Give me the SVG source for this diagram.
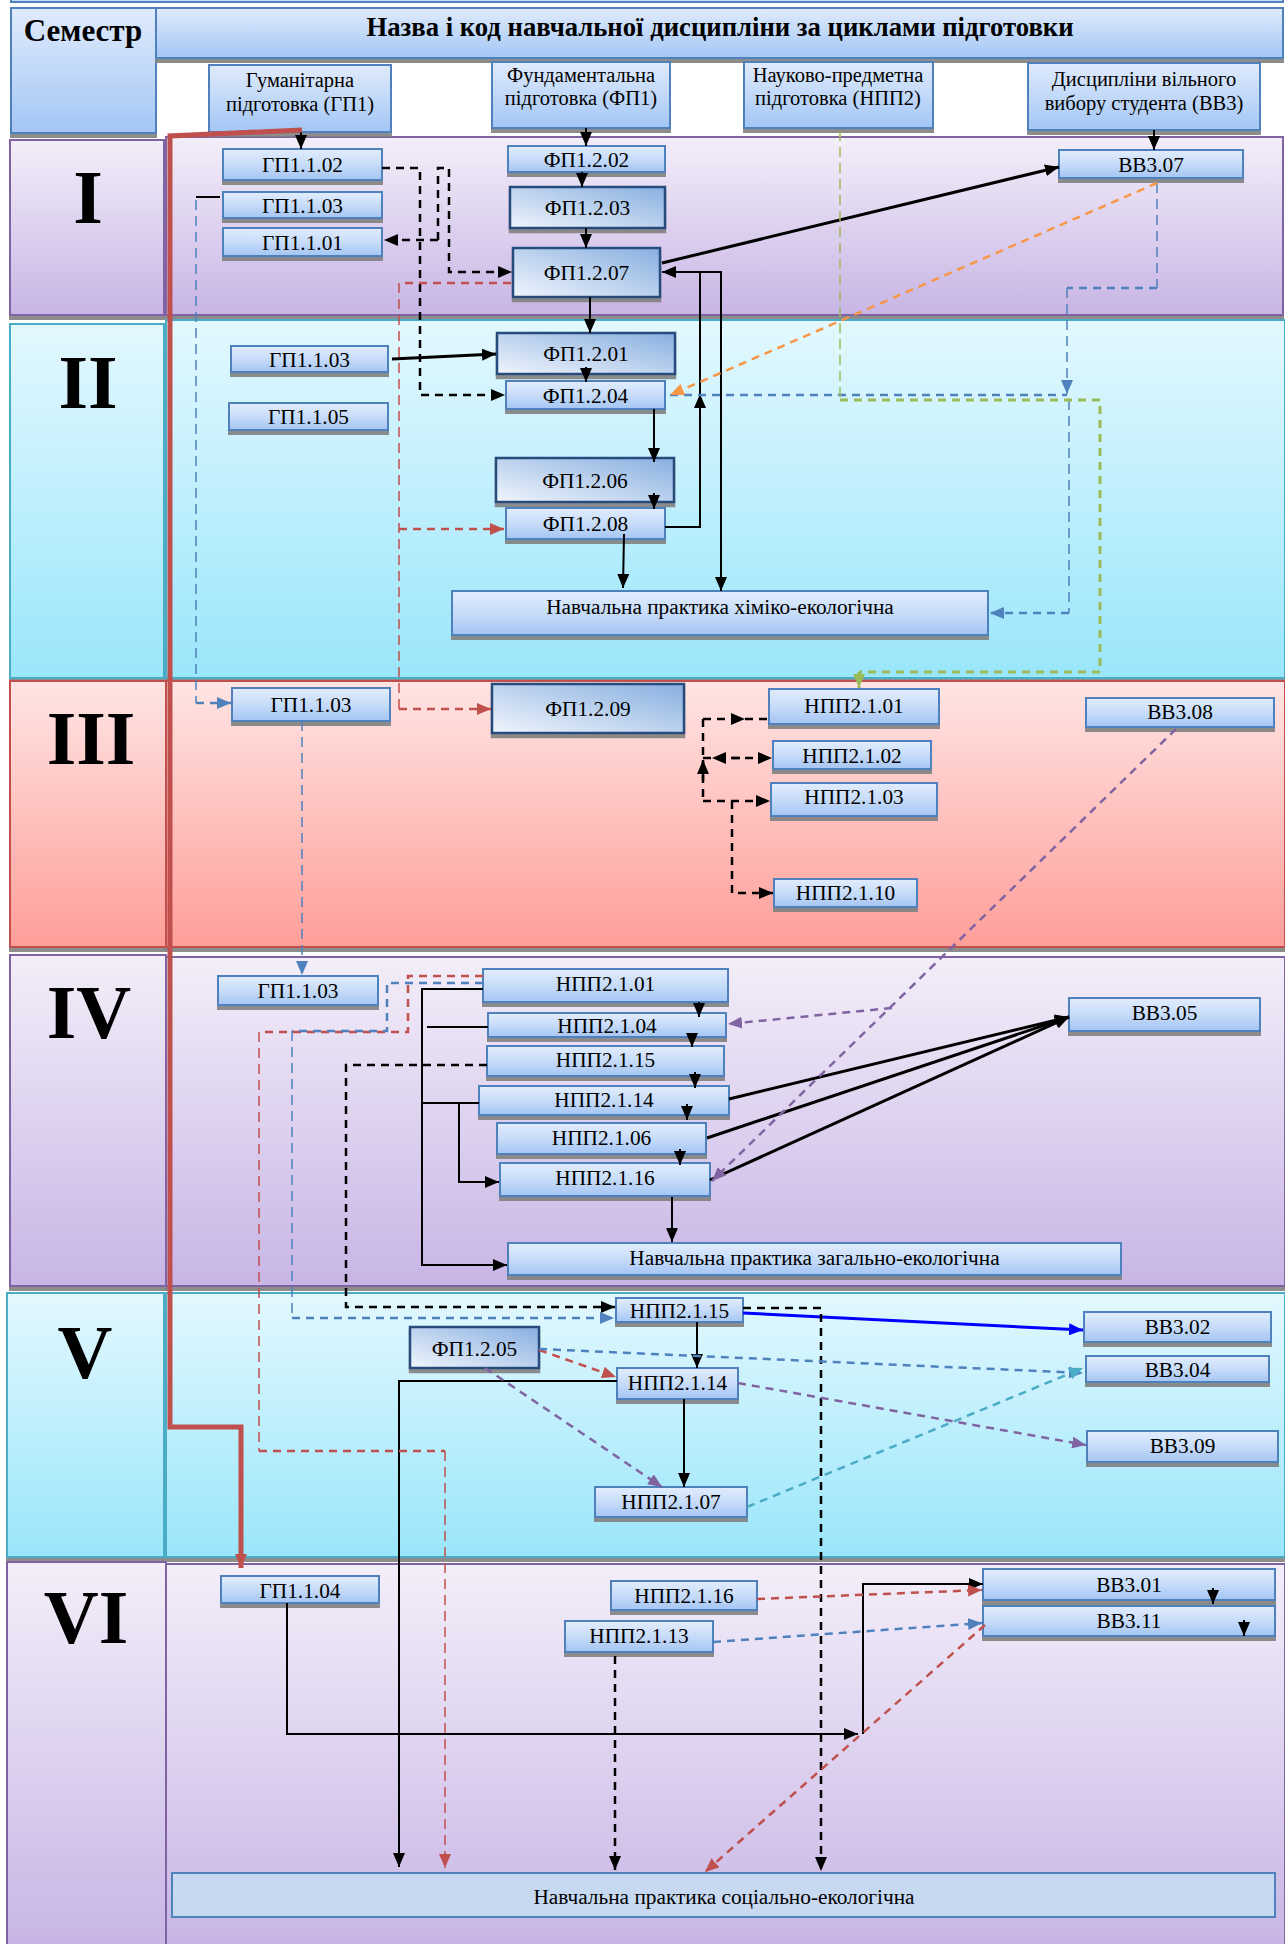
<svg xmlns="http://www.w3.org/2000/svg" width="1285" height="1944" viewBox="0 0 1285 1944">
<defs>
<style>
.t{font-family:"Liberation Serif","Times New Roman",serif;font-size:21.3px;text-anchor:middle;fill:#000}
.th{font-family:"Liberation Serif","Times New Roman",serif;font-size:20.5px;text-anchor:middle;fill:#000}
.rn{font-family:"Liberation Serif","Times New Roman",serif;font-size:76px;font-weight:bold;text-anchor:middle;fill:#000}
.n{fill:url(#gN);stroke:#4f81bd;stroke-width:2;filter:url(#sh)}
.d{fill:url(#gD);stroke:#264b7c;stroke-width:2.5;filter:url(#sh)}
.h{fill:url(#gH);stroke:#4f81bd;stroke-width:2;filter:url(#sh)}
.pp{fill:url(#gP);stroke:#8064a2;stroke-width:2;filter:url(#sh)}
.pc{fill:url(#gC);stroke:#4bacc6;stroke-width:2;filter:url(#sh)}
.pr{fill:url(#gR);stroke:#c0504d;stroke-width:2;filter:url(#sh)}
.k{fill:none;stroke:#000;stroke-width:2}
.k3{fill:none;stroke:#000;stroke-width:3}
.kd{fill:none;stroke:#000;stroke-width:2.5;stroke-dasharray:8 6}
.rd{fill:none;stroke:#c0504d;stroke-width:2.5;stroke-dasharray:8 6}
.rdt{fill:none;stroke:#c0504d;stroke-width:1.5;stroke-dasharray:10 6}
.bd{fill:none;stroke:#4f81bd;stroke-width:2.5;stroke-dasharray:8 6}
.bdt{fill:none;stroke:#4f81bd;stroke-width:1.5;stroke-dasharray:10 6}
.od{fill:none;stroke:#f79646;stroke-width:2.5;stroke-dasharray:8 6}
.gd{fill:none;stroke:#9bbb59;stroke-width:3;stroke-dasharray:8 6}
.gdt{fill:none;stroke:#9bbb59;stroke-width:1.5;stroke-dasharray:10 6}
.vd{fill:none;stroke:#8064a2;stroke-width:2.5;stroke-dasharray:8 6}
.cd{fill:none;stroke:#4bacc6;stroke-width:2.5;stroke-dasharray:8 6}
</style>
<filter id="sh" x="-5%" y="-10%" width="110%" height="140%"><feDropShadow dx="0" dy="4" stdDeviation="0.4" flood-color="#808080" flood-opacity="0.9"/></filter>
<linearGradient id="gN" x1="0" y1="0" x2="0" y2="1"><stop offset="0" stop-color="#e2edfd"/><stop offset="0.5" stop-color="#c7dcf9"/><stop offset="1" stop-color="#a4c5f3"/></linearGradient>
<linearGradient id="gH" x1="0" y1="0" x2="0" y2="1"><stop offset="0" stop-color="#e0ebfc"/><stop offset="1" stop-color="#a3c6f5"/></linearGradient>
<linearGradient id="gD" x1="0" y1="1" x2="1" y2="0"><stop offset="0" stop-color="#f0f5fc"/><stop offset="1" stop-color="#88afe0"/></linearGradient>
<linearGradient id="gP" x1="0" y1="0" x2="0" y2="1"><stop offset="0" stop-color="#f3eef9"/><stop offset="1" stop-color="#c8b5e5"/></linearGradient>
<linearGradient id="gC" x1="0" y1="0" x2="0" y2="1"><stop offset="0" stop-color="#e3f8fe"/><stop offset="1" stop-color="#9ae6fb"/></linearGradient>
<linearGradient id="gR" x1="0" y1="0" x2="0" y2="1"><stop offset="0" stop-color="#ffe5e4"/><stop offset="1" stop-color="#ff9e99"/></linearGradient>
<marker id="aK" markerUnits="userSpaceOnUse" markerWidth="14" markerHeight="12" refX="14" refY="6" orient="auto"><path d="M0,0 L14,6 L0,12 z" fill="#000"/></marker>
<marker id="aR" markerUnits="userSpaceOnUse" markerWidth="14" markerHeight="12" refX="14" refY="6" orient="auto"><path d="M0,0 L14,6 L0,12 z" fill="#c0504d"/></marker>
<marker id="aB" markerUnits="userSpaceOnUse" markerWidth="14" markerHeight="12" refX="14" refY="6" orient="auto"><path d="M0,0 L14,6 L0,12 z" fill="#4f81bd"/></marker>
<marker id="aO" markerUnits="userSpaceOnUse" markerWidth="14" markerHeight="12" refX="14" refY="6" orient="auto"><path d="M0,0 L14,6 L0,12 z" fill="#f79646"/></marker>
<marker id="aG" markerUnits="userSpaceOnUse" markerWidth="14" markerHeight="12" refX="14" refY="6" orient="auto"><path d="M0,0 L14,6 L0,12 z" fill="#9bbb59"/></marker>
<marker id="aV" markerUnits="userSpaceOnUse" markerWidth="14" markerHeight="12" refX="14" refY="6" orient="auto"><path d="M0,0 L14,6 L0,12 z" fill="#8064a2"/></marker>
<marker id="aC" markerUnits="userSpaceOnUse" markerWidth="14" markerHeight="12" refX="14" refY="6" orient="auto"><path d="M0,0 L14,6 L0,12 z" fill="#4bacc6"/></marker>
<marker id="aU" markerUnits="userSpaceOnUse" markerWidth="14" markerHeight="12" refX="14" refY="6" orient="auto"><path d="M0,0 L14,6 L0,12 z" fill="#0000ff"/></marker>
</defs>
<rect x="0" y="0" width="1285" height="1944" fill="#fff"/>
<rect x="11" y="-8" width="1272" height="10" fill="#c5dbf7" stroke="#4f81bd" stroke-width="2"/>

<g id="panels">
<rect class="pp" x="10" y="140" width="154" height="175"/>
<rect class="pp" x="166" y="137" width="1117" height="178"/>
<rect class="pc" x="10" y="324" width="154" height="354"/>
<rect class="pc" x="166" y="320" width="1119" height="358"/>
<rect class="pr" x="10" y="681" width="156" height="266"/>
<rect class="pr" x="166" y="681" width="1119" height="266"/>
<rect class="pp" x="10" y="955" width="156" height="331"/>
<rect class="pp" x="166" y="957" width="1119" height="329"/>
<rect class="pc" x="7" y="1293" width="157" height="264"/>
<rect class="pc" x="166" y="1293" width="1119" height="264"/>
<rect class="pp" x="7" y="1562" width="159" height="384"/>
<rect class="pp" x="166" y="1564" width="1119" height="382"/>
<text class="rn" x="88" y="223">I</text>
<text class="rn" x="88" y="408">II</text>
<text class="rn" x="91" y="764">III</text>
<text class="rn" x="89" y="1038">IV</text>
<text class="rn" x="85" y="1378">V</text>
<text class="rn" x="86" y="1643">VI</text>
</g>

<g id="header">
<rect class="h" x="11" y="8" width="145" height="125"/>
<text class="t" x="83" y="41" style="font-size:31px;font-weight:bold">Семестр</text>
<rect class="h" x="156" y="8" width="1127" height="50"/>
<text class="t" x="720" y="36" style="font-size:26.7px;font-weight:bold">Назва і код навчальної дисципліни за циклами підготовки</text>
</g>
<g id="cat-gp1"><rect class="h" x="209" y="65" width="182" height="67"/><text class="th" x="300" y="87">Гуманітарна</text><text class="th" x="300" y="111">підготовка (ГП1)</text></g>
<g id="cat-fp1"><rect class="h" x="492" y="62" width="178" height="66"/><text class="th" x="581" y="82">Фундаментальна</text><text class="th" x="581" y="105">підготовка (ФП1)</text></g>
<g id="cat-npp2"><rect class="h" x="744" y="62" width="189" height="66"/><text class="th" x="838" y="82">Науково-предметна</text><text class="th" x="838" y="105">підготовка (НПП2)</text></g>
<g id="cat-vv3"><rect class="h" x="1028" y="63" width="232" height="67"/><text class="th" x="1144" y="86">Дисципліни вільного</text><text class="th" x="1144" y="110">вибору студента (ВВ3)</text></g>

<g id="s1-gp1102"><rect class="n" x="223" y="149" width="159" height="31"/><text class="t" x="302.5" y="172">ГП1.1.02</text></g>
<g id="s1-gp1103"><rect class="n" x="223" y="192" width="159" height="26"/><text class="t" x="302.5" y="212.5">ГП1.1.03</text></g>
<g id="s1-gp1101"><rect class="n" x="223" y="228" width="159" height="28"/><text class="t" x="302.5" y="249.5">ГП1.1.01</text></g>
<g id="s1-fp1202"><rect class="n" x="508" y="146" width="157" height="26"/><text class="t" x="586.5" y="166.5">ФП1.2.02</text></g>
<g id="s1-fp1203"><rect class="d" x="510" y="187" width="155" height="41"/><text class="t" x="587.5" y="215">ФП1.2.03</text></g>
<g id="s1-fp1207"><rect class="d" x="513" y="248" width="147" height="49"/><text class="t" x="586.5" y="280">ФП1.2.07</text></g>
<g id="s1-vv307"><rect class="n" x="1059" y="150" width="184" height="28"/><text class="t" x="1151" y="171.5">ВВ3.07</text></g>

<g id="s2-gp1103"><rect class="n" x="231" y="346" width="157" height="26"/><text class="t" x="309.5" y="366.5">ГП1.1.03</text></g>
<g id="s2-gp1105"><rect class="n" x="229" y="403" width="159" height="27"/><text class="t" x="308.5" y="424">ГП1.1.05</text></g>
<g id="s2-fp1201"><rect class="d" x="497" y="333" width="178" height="41"/><text class="t" x="586" y="361">ФП1.2.01</text></g>
<g id="s2-fp1204"><rect class="n" x="506" y="381" width="159" height="28"/><text class="t" x="585.5" y="402.5">ФП1.2.04</text></g>
<g id="s2-fp1206"><rect class="d" x="496" y="458" width="178" height="44"/><text class="t" x="585" y="487.5">ФП1.2.06</text></g>
<g id="s2-fp1208"><rect class="n" x="506" y="508" width="159" height="31"/><text class="t" x="585.5" y="531">ФП1.2.08</text></g>
<g id="s2-prac"><rect class="n" x="452" y="591" width="536" height="44"/><text class="t" x="720" y="613.5">Навчальна практика хіміко-екологічна</text></g>

<g id="s3-gp1103"><rect class="n" x="232" y="688" width="158" height="33"/><text class="t" x="311" y="711.5">ГП1.1.03</text></g>
<g id="s3-fp1209"><rect class="d" x="492" y="684" width="192" height="49"/><text class="t" x="588" y="715.5">ФП1.2.09</text></g>
<g id="s3-npp2101"><rect class="n" x="769" y="689" width="170" height="35"/><text class="t" x="854" y="712.5">НПП2.1.01</text></g>
<g id="s3-npp2102"><rect class="n" x="773" y="741" width="158" height="28"/><text class="t" x="852" y="762.5">НПП2.1.02</text></g>
<g id="s3-npp2103"><rect class="n" x="771" y="783" width="166" height="33"/><text class="t" x="854" y="803.5">НПП2.1.03</text></g>
<g id="s3-npp2110"><rect class="n" x="774" y="879" width="143" height="28"/><text class="t" x="845.5" y="899.5">НПП2.1.10</text></g>
<g id="s3-vv308"><rect class="n" x="1086" y="698" width="188" height="29"/><text class="t" x="1180" y="719">ВВ3.08</text></g>

<g id="s4-gp1103"><rect class="n" x="218" y="976" width="160" height="29"/><text class="t" x="298" y="997.5">ГП1.1.03</text></g>
<g id="s4-npp2101"><rect class="n" x="483" y="969" width="245" height="33"/><text class="t" x="605.5" y="990.5">НПП2.1.01</text></g>
<g id="s4-npp2104"><rect class="n" x="488" y="1013" width="238" height="24"/><text class="t" x="607" y="1032.5">НПП2.1.04</text></g>
<g id="s4-npp2115"><rect class="n" x="487" y="1046" width="237" height="30"/><text class="t" x="605.5" y="1066.5">НПП2.1.15</text></g>
<g id="s4-npp2114"><rect class="n" x="479" y="1086" width="250" height="29"/><text class="t" x="604" y="1106.5">НПП2.1.14</text></g>
<g id="s4-npp2106"><rect class="n" x="497" y="1123" width="209" height="31"/><text class="t" x="601.5" y="1144.5">НПП2.1.06</text></g>
<g id="s4-npp2116"><rect class="n" x="500" y="1163" width="210" height="33"/><text class="t" x="605" y="1184.5">НПП2.1.16</text></g>
<g id="s4-vv305"><rect class="n" x="1069" y="998" width="191" height="33"/><text class="t" x="1164.5" y="1019.5">ВВ3.05</text></g>
<g id="s4-prac"><rect class="n" x="508" y="1243" width="613" height="32"/><text class="t" x="814.5" y="1264.5">Навчальна практика загально-екологічна</text></g>

<g id="s5-npp2115"><rect class="n" x="616" y="1298" width="127" height="24"/><text class="t" x="679.5" y="1317.5">НПП2.1.15</text></g>
<g id="s5-fp1205"><rect class="d" x="410" y="1327" width="129" height="41"/><text class="t" x="474.5" y="1355.5">ФП1.2.05</text></g>
<g id="s5-npp2114"><rect class="n" x="617" y="1368" width="121" height="31"/><text class="t" x="677.5" y="1389.5">НПП2.1.14</text></g>
<g id="s5-npp2107"><rect class="n" x="595" y="1487" width="152" height="30"/><text class="t" x="671" y="1508.5">НПП2.1.07</text></g>
<g id="s5-vv302"><rect class="n" x="1084" y="1312" width="187" height="30"/><text class="t" x="1177.5" y="1333.5">ВВ3.02</text></g>
<g id="s5-vv304"><rect class="n" x="1086" y="1356" width="183" height="26"/><text class="t" x="1177.5" y="1376.5">ВВ3.04</text></g>
<g id="s5-vv309"><rect class="n" x="1087" y="1431" width="191" height="31"/><text class="t" x="1182.5" y="1452.5">ВВ3.09</text></g>

<g id="s6-gp1104"><rect class="n" x="221" y="1576" width="158" height="27"/><text class="t" x="300" y="1597.5">ГП1.1.04</text></g>
<g id="s6-npp2116"><rect class="n" x="611" y="1581" width="146" height="29"/><text class="t" x="684" y="1602.5">НПП2.1.16</text></g>
<g id="s6-npp2113"><rect class="n" x="565" y="1621" width="148" height="31"/><text class="t" x="639" y="1642.5">НПП2.1.13</text></g>
<g id="s6-vv301"><rect class="n" x="983" y="1569" width="292" height="31"/><text class="t" x="1129" y="1591.5">ВВ3.01</text></g>
<g id="s6-vv311"><rect class="n" x="983" y="1606" width="292" height="30"/><text class="t" x="1129" y="1627.5">ВВ3.11</text></g>
<g id="s6-prac"><rect x="172" y="1873" width="1103" height="44" fill="#c6d9f1" stroke="#4f81bd" stroke-width="2"/><text class="t" x="724" y="1903.5">Навчальна практика соціально-екологічна</text></g>

<g id="connectors">
<path class="k" d="M301,132 V149" marker-end="url(#aK)"/>
<path class="k" d="M586,128 V146" marker-end="url(#aK)"/>
<path class="k" d="M1154,130 V150" marker-end="url(#aK)"/>
<path class="k" d="M582,172 V187" marker-end="url(#aK)"/>
<path class="k" d="M586,228 V248" marker-end="url(#aK)"/>
<path class="k" d="M590,297 V333" marker-end="url(#aK)"/>
<path class="k3" d="M662,263 L1059,167" marker-end="url(#aK)"/>
<path class="k" d="M665,527 H700 V394" marker-end="url(#aK)"/>
<path class="k" d="M700,394 V272 H662" marker-end="url(#aK)"/>
<path class="k" d="M662,272 H721 V591" marker-end="url(#aK)"/>
<path class="k3" d="M392,359 L496,354" marker-end="url(#aK)"/>
<path class="k" d="M586,367 V382" marker-end="url(#aK)"/>
<path class="k" d="M654,409 V462" marker-end="url(#aK)"/>
<path class="k" d="M654,493 V509" marker-end="url(#aK)"/>
<path class="k" d="M624,534 L623,588" marker-end="url(#aK)"/>
<path class="k" d="M220,197 H196"/>
<path class="k" d="M699,1002 V1017" marker-end="url(#aK)"/>
<path class="k" d="M692,1033 V1047" marker-end="url(#aK)"/>
<path class="k" d="M695,1072 V1088" marker-end="url(#aK)"/>
<path class="k" d="M687,1104 V1120" marker-end="url(#aK)"/>
<path class="k" d="M680,1149 V1165" marker-end="url(#aK)"/>
<path class="k" d="M672,1197 V1242" marker-end="url(#aK)"/>
<path class="k" d="M483,989 H422 V1265 H507" marker-end="url(#aK)"/>
<path class="k" d="M488,1027 H427"/>
<path class="k" d="M479,1103 H422"/>
<path class="k" d="M459,1103 V1182 H499" marker-end="url(#aK)"/>
<path class="k3" d="M729,1099 L1069,1017" marker-end="url(#aK)"/>
<path class="k3" d="M707,1138 L1069,1017" marker-end="url(#aK)"/>
<path class="k3" d="M710,1180 L1069,1017" marker-end="url(#aK)"/>
<path fill="none" stroke="#0000ff" stroke-width="3" d="M743,1313 L1083,1330" marker-end="url(#aU)"/>
<path class="k" d="M697,1322 V1368" marker-end="url(#aK)"/>
<path class="k" d="M684,1399 V1487" marker-end="url(#aK)"/>
<path class="k" d="M617,1381 H399 V1867" marker-end="url(#aK)"/>
<path class="k" d="M287,1603 V1734 H858" marker-end="url(#aK)"/>
<path class="k" d="M863,1734 V1584 H983" marker-end="url(#aK)"/>
<path class="k" d="M1213,1588 V1604" marker-end="url(#aK)"/>
<path class="k" d="M1244,1620 V1636" marker-end="url(#aK)"/>
<path class="kd" d="M382,168 H420 V395 H505" marker-end="url(#aK)"/>
<path class="kd" d="M438,240 V168 H449 V272 H512" marker-end="url(#aK)"/>
<path class="kd" d="M438,240 H384" marker-end="url(#aK)"/>
<path class="kd" d="M703,719 V801"/>
<path class="kd" d="M703,719 H745" marker-end="url(#aK)"/>
<path class="kd" d="M745,719 H769"/>
<path class="kd" d="M703,758 H772" marker-end="url(#aK)"/>
<path class="kd" d="M740,758 H712" marker-end="url(#aK)"/>
<path class="kd" d="M703,780 V760" marker-end="url(#aK)"/>
<path class="kd" d="M703,801 H770" marker-end="url(#aK)"/>
<path class="kd" d="M732,801 V893 H773" marker-end="url(#aK)"/>
<path class="kd" d="M487,1065 H346 V1307 H615" marker-end="url(#aK)"/>
<path class="kd" d="M743,1308 H821 V1871" marker-end="url(#aK)"/>
<path class="kd" d="M615,1656 V1870" marker-end="url(#aK)"/>
<path fill="none" stroke="#c0504d" stroke-width="5" d="M302,130 L170,136 V1427 H241 V1568" marker-end="url(#aR)"/>
<path class="rd" d="M511,283 H399"/>
<path class="rdt" d="M399,283 V709"/>
<path class="rd" d="M399,529 H504" marker-end="url(#aR)"/>
<path class="rd" d="M399,709 H491" marker-end="url(#aR)"/>
<path class="rd" d="M483,976 H408 V1032 H259"/>
<path class="rdt" d="M259,1032 V1451"/>
<path class="rd" d="M259,1451 H445"/>
<path class="rdt" d="M445,1451 V1868" marker-end="url(#aR)"/>
<path class="rd" d="M757,1599 L982,1590" marker-end="url(#aR)"/>
<path class="rd" d="M985,1625 L705,1872" marker-end="url(#aR)"/>
<path class="rd" d="M539,1350 L616,1377" marker-end="url(#aR)"/>
<path class="bdt" d="M196,200 V703"/>
<path class="bd" d="M196,703 H231" marker-end="url(#aB)"/>
<path class="bdt" d="M302,721 V975" marker-end="url(#aB)"/>
<path class="bdt" d="M1157,183 V288"/>
<path class="bd" d="M1157,288 H1067"/>
<path class="bdt" d="M1067,288 V394" marker-end="url(#aB)"/>
<path class="bd" d="M670,395 H1067"/>
<path class="bdt" d="M1069,400 V613"/>
<path class="bd" d="M1069,613 H990" marker-end="url(#aB)"/>
<path class="bd" d="M483,983 H387 V1031 H292"/>
<path class="bdt" d="M292,1031 V1318"/>
<path class="bd" d="M292,1318 H614" marker-end="url(#aB)"/>
<path class="bd" d="M539,1349 L1083,1373" marker-end="url(#aB)"/>
<path class="bd" d="M713,1642 L982,1623" marker-end="url(#aB)"/>
<path class="od" d="M1157,183 L670,395" marker-end="url(#aO)"/>
<path class="gdt" d="M840,131 V400"/>
<path class="gd" d="M840,400 H1100 V672 H859"/>
<path class="gd" d="M859,672 V688" marker-end="url(#aG)"/>
<path class="vd" d="M1176,729 L712,1181" marker-end="url(#aV)"/>
<path class="vd" d="M892,1008 L728,1024" marker-end="url(#aV)"/>
<path class="vd" d="M485,1368 L662,1487" marker-end="url(#aV)"/>
<path class="vd" d="M738,1383 L1086,1445" marker-end="url(#aV)"/>
<path class="cd" d="M747,1507 L1083,1368" marker-end="url(#aC)"/>
</g>
</svg>
